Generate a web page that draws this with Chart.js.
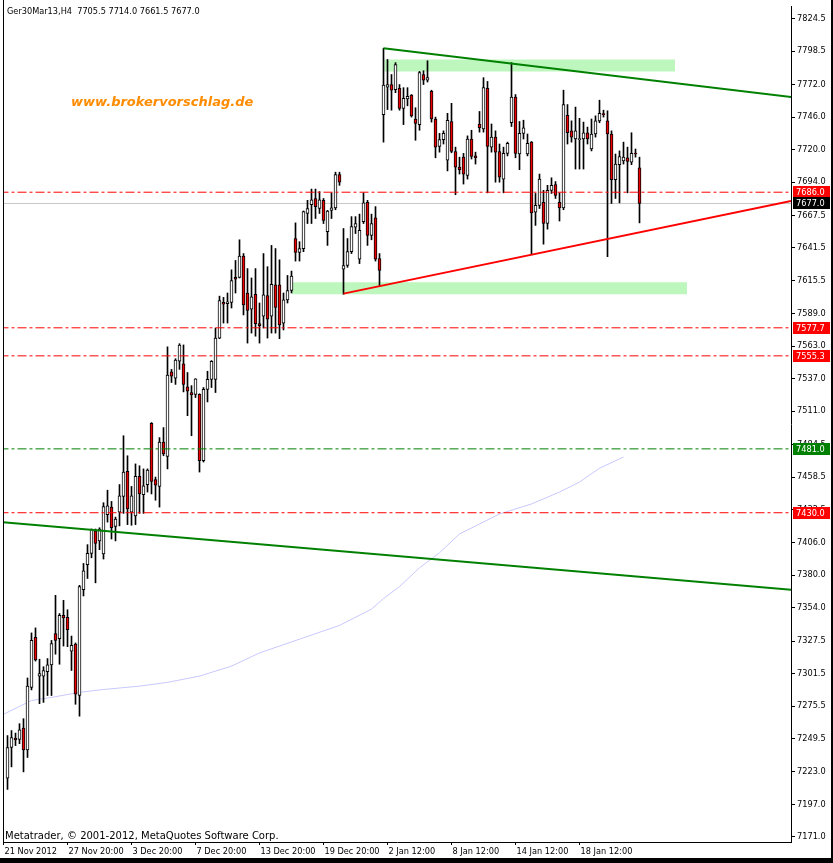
<!DOCTYPE html>
<html>
<head>
<meta charset="utf-8">
<script src="https://cdn.jsdelivr.net/npm/chart.js@4.4.1/dist/chart.umd.min.js"></script>
<style>
html, body { margin: 0; padding: 0; background: #fff; }
canvas { display: block; }
</style>
</head>
<body>
<canvas id="chart" width="833" height="863"></canvas>
<script>
// Ger30Mar13, H4 bars - bar index 1..159 (bar 0 sits under the left frame)
const symbol = 'Ger30Mar13,H4';
const firstBar = 1;

const opens = [7218,7242.5,7250,7249,7258,7240.5,7290.5,7330.5,7299.5,7299.5,7303,7308.5,7333.5,7329.5,7348,7346.5,7319.5,7325,7284,7368.5,
  7388.5,7397.5,7415.5,7407.5,7397,7428.5,7434.5,7419,7430.5,7443,7463,7430.5,7427.5,7459,7444.5,7452.5,7501.5,7456.5,7451,7486.5,
  7475,7542.5,7537.5,7551,7549,7530.5,7526,7524.5,7524.5,7471.5,7528.5,7536.5,7536.5,7569.5,7598,7597,7598,7618,7618,7635,
  7605.5,7592.5,7604.5,7581,7587,7603.5,7587,7612,7612,7581.5,7600,7607.5,7649,7638,7641,7669,7676,7681,7673,7679.5,
  7654.5,7671.5,7673.5,7700,7624.5,7627.5,7638.5,7658,7632.5,7662.5,7678,7651.5,7665.5,7633,7748,7770,7772,7768,7769,7753,
  7760.5,7763.5,7744.5,7740,7780,7775.5,7766.5,7744.5,7722.5,7728,7711.5,7742.5,7718.5,7706,7714,7699.5,7728.5,7715,7740.5,7736.5,
  7769,7722,7730,7718.5,7696.5,7717,7741.5,7762,7716.5,7733,7716.5,7726,7670,7675.5,7678,7661,7687.5,7692,7678,7673.5,
  7747.5,7735,7728.5,7728,7728.5,7733.5,7720.5,7732.5,7743,7748.5,7743,7732.5,7696,7708,7711,7713.5,7710,7717,7705.5];
const highs = [7252,7256,7254,7261.5,7265.5,7298,7334,7338,7313,7307,7313.5,7328,7364,7349.5,7360,7352.5,7331.5,7326,7372,7389.5,
  7404.5,7417,7417,7418,7438,7448,7439,7426.5,7452.5,7491.5,7475.5,7451,7469,7467.5,7465,7465,7502,7458.5,7490,7498,
  7562.5,7544.5,7553,7565,7564,7542,7531.5,7537,7525,7530,7543,7551.5,7577.5,7603,7602,7605.5,7624,7631.5,7648,7637,
  7625,7617.5,7625,7597.5,7637,7626.5,7643.5,7641,7632,7605.5,7619.5,7623,7661.5,7646.5,7671,7679.5,7688.5,7688.5,7686.5,7681,
  7671.5,7685.5,7702,7702,7657,7649,7666.5,7666.5,7668.5,7685.5,7679.5,7668.5,7674.5,7637,7801,7792,7780,7789.5,7772,7769.5,
  7769.5,7764,7753.5,7782.5,7783,7791,7767.5,7746,7733,7735,7749,7757,7722,7714,7717,7731,7735.5,7718,7750.5,7777.5,
  7774.5,7740.5,7735,7724.5,7722,7726,7789.5,7764,7742.5,7743.5,7732.5,7726.5,7685,7700.5,7687.5,7691.5,7697.5,7694.5,7685.5,7767.5,
  7756,7743,7754,7745,7742,7738,7744.5,7747,7759.5,7751.5,7751,7735,7716.5,7719,7726,7722,7733.5,7720.5,7714];
const lows = [7209,7227,7244,7245.5,7223,7234.5,7288.5,7311.5,7277.5,7278.5,7284,7284,7317,7309,7323.5,7323,7304,7277,7267.5,7363.5,
  7377.5,7394,7374,7400.5,7393,7422.5,7409,7407.5,7419.5,7429.5,7420.5,7420,7420.5,7429.5,7429.5,7446.5,7445,7440,7434.5,7475.5,
  7465,7534,7532.5,7544.5,7526.5,7507.5,7491.5,7522,7462.5,7470.5,7518.5,7530,7526,7569,7581.5,7581.5,7593.5,7605.5,7617.5,7588,
  7565.5,7573.5,7571,7565.5,7577.5,7569.5,7573.5,7573.5,7569,7576,7597.5,7605.5,7631,7631,7638.5,7661,7661,7665,7669,7661,
  7643.5,7665,7672,7691.5,7604.5,7626,7637,7653,7629,7661,7643.5,7648,7631,7611,7726,7752,7751.5,7765.5,7751.5,7740,
  7755,7746,7727.5,7735.5,7772,7774,7742,7713.5,7718,7724.5,7703,7717.5,7684,7700.5,7692.5,7696.5,7712.5,7708.5,7734,7734,
  7685.5,7718,7694,7694,7685.5,7715,7738.5,7713.5,7704,7728.5,7715,7636,7659.5,7673,7644.5,7656.5,7685,7681,7663,7672,
  7724.5,7726,7704.5,7704.5,7704.5,7724.5,7719,7730,7741.5,7746,7634.5,7677,7681,7677.5,7708.5,7685.5,7708,7714,7661.5];
const closes = [7242.5,7250.5,7248.5,7256.5,7240.5,7291.5,7328,7312.5,7301.5,7304,7308.5,7325.5,7328,7348,7346,7336.5,7324,7285,7371,7383.5,
  7397.5,7417,7405.5,7417,7435,7435.5,7418,7425,7443.5,7462.5,7433,7443.5,7459,7445,7451.5,7464,7455,7452,7486.5,7477,
  7540,7539,7552,7564,7532.5,7527,7524,7537,7471.5,7528.5,7536.5,7551,7569.5,7599.5,7596.5,7598.5,7615.5,7616.5,7635,7596,
  7591.5,7602.5,7581,7579.5,7604,7584.5,7612.5,7594,7580,7600,7607.5,7619,7638,7641,7670.5,7673,7680,7674.5,7680,7663.5,
  7671,7673.5,7700,7694,7627.5,7638.5,7658.5,7661,7655.5,7677.5,7651.5,7661,7632.5,7623.5,7771.5,7772,7767.5,7788,7753,7761,
  7762.5,7747,7741,7781.5,7775.5,7777.5,7744.5,7722,7728,7733,7743.5,7718.5,7706,7704,7700.5,7728.5,7714.5,7713.5,7737.5,7769.5,
  7722.5,7730,7718,7698,7717,7725,7762,7717,7733,7737.5,7725,7669.5,7675.5,7696.5,7661,7687.5,7691.5,7683.5,7673.5,7756,
  7733.5,7730,7735,7728.5,7733.5,7728.5,7732.5,7743,7749,7748,7732.5,7696,7708.5,7714.5,7714,7710.5,7717,7716.5,7677];

// time axis
const tickBars = [0, 16, 32, 48, 64, 80, 96, 112, 128, 144];
const tickTimes = ['21 Nov 2012', '27 Nov 20:00', '3 Dec 20:00', '7 Dec 20:00', '13 Dec 20:00',
  '19 Dec 20:00', '2 Jan 12:00', '8 Jan 12:00', '14 Jan 12:00', '18 Jan 12:00'];

// price axis
const priceTicks = [7824.5, 7798.5, 7772.0, 7746.0, 7720.0, 7694.0, 7667.5, 7641.5, 7615.5, 7589.0, 7563.0,
  7537.0, 7511.0, 7484.5, 7458.5, 7432.5, 7406.0, 7380.0, 7354.0, 7327.5, 7301.5, 7275.5, 7249.5, 7223.0, 7197.0, 7171.0];

// moving average
const maBars = [0, 7, 12, 19, 24, 34, 41, 49, 57, 64, 74, 84, 92, 95, 99, 104, 109, 114, 119, 124, 132, 139, 144, 149, 155];
const maValues = [7269, 7280, 7282.5, 7286.5, 7288.5, 7291.5, 7294.5, 7299.5, 7307.5, 7318, 7329, 7340, 7353, 7361.5,
  7371, 7386, 7398, 7413, 7421, 7429, 7437, 7446.5, 7454.5, 7465.5, 7474.5];

// drawn objects
const levels = [7686.0, 7577.7, 7555.3, 7481.0, 7430.0];
const bidPrice = 7677.0;
const resistBars = [95, 196.9], resistValues = [7801, 7762];
const supportBars = [85, 196.9], supportValues = [7605, 7679];
const channelBars = [-0.2, 196.9], channelValues = [7422.5, 7368.5];
const topZoneBars = [95.2, 167.9], topZone = [7782.4, 7792];
const lowZoneBars = [72.1, 170.9], lowZone = [7604.6, 7614.1];

const RED = '#ff0000', GREEN = '#008000', BEAR = '#ee0000', ZONE = '#bdf7bd';
const levelColors = [RED, RED, RED, GREEN, RED];
const dashDot = [9, 3, 3, 3];

const xy = (xs, ys) => xs.map((x, i) => ({ x: x, y: ys[i] }));
const flat = (xs, v) => xs.map(x => ({ x: x, y: v }));
const fullWidth = [-1, 198];

const bodies = opens.map((o, i) => ({ x: i + firstBar, y: [o, closes[i]] }));
const wicks = lows.map((l, i) => ({ x: i + firstBar, y: [l, highs[i]] }));
const bodyFill = opens.map((o, i) => closes[i] >= o ? '#ffffff' : BEAR);

function line(data, color, width, dash, order) {
  return { type: 'line', data: data, borderColor: color, borderWidth: width, borderDash: dash || [],
    pointRadius: 0, fill: false, order: order };
}

const datasets = [
  { type: 'line', data: flat(topZoneBars, topZone[1]), borderWidth: 0, pointRadius: 0,
    backgroundColor: ZONE, fill: '+1', order: 20 },
  { type: 'line', data: flat(topZoneBars, topZone[0]), borderWidth: 0, pointRadius: 0, fill: false, order: 20 },
  { type: 'line', data: flat(lowZoneBars, lowZone[1]), borderWidth: 0, pointRadius: 0,
    backgroundColor: ZONE, fill: '+1', order: 20 },
  { type: 'line', data: flat(lowZoneBars, lowZone[0]), borderWidth: 0, pointRadius: 0, fill: false, order: 20 },
  line(flat(fullWidth, bidPrice), '#c8c8c8', 1, null, 15),
  line(xy(maBars, maValues), '#c8c8ff', 1, null, 14),
  { type: 'bar', data: wicks, backgroundColor: '#000', borderWidth: 0, barThickness: 1,
    minBarLength: 1, grouped: false, order: 6 },
  { type: 'bar', data: bodies, backgroundColor: bodyFill, borderColor: '#000', borderWidth: 1,
    borderSkipped: false, barThickness: 3, minBarLength: 1, grouped: false, order: 5 }
];
levels.forEach((v, i) => datasets.push(line(flat(fullWidth, v), levelColors[i], 1, dashDot, 3)));
datasets.push(line(xy(channelBars, channelValues), GREEN, 2, null, 1));
datasets.push(line(xy(resistBars, resistValues), GREEN, 2, null, 1));
datasets.push(line(xy(supportBars, supportValues), RED, 2, null, 1));

// frame, texts and price boxes
const decor = {
  id: 'decor',
  afterDraw(chart) {
    const ctx = chart.ctx, ys = chart.scales.y, a = chart.chartArea;
    const last = opens.length - 1;
    ctx.save();
    ctx.fillStyle = '#000';
    ctx.fillRect(a.left, 0, 1, a.bottom + 1);
    ctx.fillRect(831, 0, 2, 863);
    ctx.fillRect(0, 858, 833, 5);

    ctx.textBaseline = 'alphabetic';
    ctx.textAlign = 'left';
    ctx.font = '8.2px "DejaVu Sans"';
    ctx.fillText(symbol + '  ' + [opens[last], highs[last], lows[last], closes[last]].map(v => v.toFixed(1)).join(' '), 7, 14);
    ctx.font = '10px "DejaVu Sans"';
    ctx.fillText('Metatrader, \u00a9 2001-2012, MetaQuotes Software Corp.', 5, 839);
    ctx.font = 'italic bold 13px "DejaVu Sans"';
    ctx.fillStyle = '#ff8c00';
    ctx.fillText('www.brokervorschlag.de', 71, 106);

    const boxes = levels.map((v, i) => [v, levelColors[i]]).concat([[bidPrice, '#000']]);
    ctx.font = '8.2px "DejaVu Sans"';
    ctx.textBaseline = 'middle';
    boxes.forEach(([v, c]) => {
      const py = Math.round(ys.getPixelForValue(v));
      ctx.fillStyle = c;
      ctx.fillRect(793, py - 6, 37, 12);
      ctx.fillStyle = '#fff';
      ctx.fillText(v.toFixed(1), 796, py + 0.5);
    });
    ctx.restore();
  }
};

Chart.defaults.font.family = '"DejaVu Sans"';
Chart.defaults.font.size = 8.2;
Chart.defaults.color = '#000';

new Chart(document.getElementById('chart'), {
  type: 'bar',
  data: { datasets: datasets },
  options: {
    responsive: false,
    animation: false,
    devicePixelRatio: 1,
    events: [],
    layout: { padding: { left: 3, top: 2, right: 0, bottom: 0 } },
    plugins: { legend: { display: false }, tooltip: { enabled: false } },
    scales: {
      x: {
        type: 'linear', offset: false, min: -0.125, max: 196.875,
        grid: { offset: false, drawOnChartArea: false, drawTicks: true, tickLength: 3, color: '#000' },
        border: { display: true, color: '#000', width: 1 },
        afterBuildTicks: s => { s.ticks = tickBars.map(v => ({ value: v })); },
        afterFit: s => { s.height = 21; },
        ticks: { autoSkip: false, maxRotation: 0, minRotation: 0, align: 'start', labelOffset: 1, padding: 2,
          callback: (v, i) => tickTimes[i] }
      },
      y: {
        type: 'linear', position: 'right', min: 7167, max: 7834,
        grid: { drawOnChartArea: false, drawTicks: true, tickLength: 4, color: '#000' },
        border: { display: true, color: '#000', width: 1 },
        afterBuildTicks: s => { s.ticks = priceTicks.map(v => ({ value: v })); },
        afterFit: s => { s.width = 42; },
        ticks: { autoSkip: false, padding: 2, callback: v => v.toFixed(1) }
      }
    }
  },
  plugins: [decor]
});
</script>
</body>
</html>
